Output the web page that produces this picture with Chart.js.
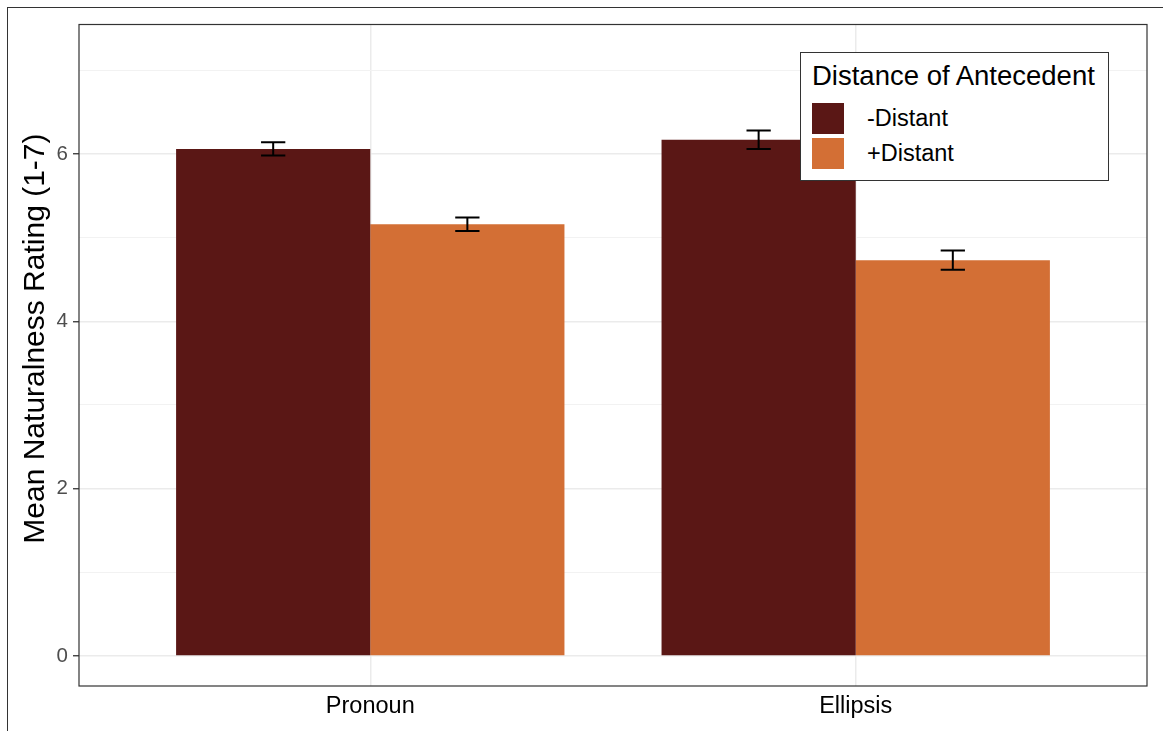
<!DOCTYPE html>
<html>
<head>
<meta charset="utf-8">
<script src="https://cdn.jsdelivr.net/npm/chart.js@4"></script>
<style>
    body { margin: 0; background: #fff; }
    #wrap { position: relative; width: 1163px; height: 731px; overflow: hidden; }
    #frame { position: absolute; left: 7px; top: 7px; width: 1200px; height: 800px;
        border-left: 1.3px solid #333; border-top: 1.3px solid #333; }
    #legend { position: absolute; left: 800px; top: 52px; width: 307px; height: 127px;
        background: #fff; border: 1.3px solid #333; font-family: "Liberation Sans", Arial, sans-serif; }
    #legend .title { position: absolute; left: 11px; top: 7px; font-size: 27.5px; color: #000; white-space: nowrap; }
    #legend .key { position: absolute; left: 11px; width: 32px; height: 31px; }
    #legend .lab { position: absolute; left: 66px; font-size: 23.5px; color: #000; line-height: 31px; white-space: nowrap; }
</style>
</head>
<body>
<div id="wrap">
    <canvas id="myChart" width="1163" height="731"></canvas>
    <div id="frame"></div>
    <div id="legend"></div>
</div>
<script>
const categories = ['Pronoun', 'Ellipsis'];
const seriesNames = ['-Distant', '+Distant'];
const seriesColors = ['#5A1715', '#D36F35'];
const nearMeans = [6.06, 6.17];
const nearErrors = [0.08, 0.11];
const farMeans = [5.16, 4.73];
const farErrors = [0.08, 0.115];
const yTicks = [0, 1, 2, 3, 4, 5, 6, 7];
const legendTitle = 'Distance of Antecedent';
const yTitle = 'Mean Naturalness Rating (1-7)';

const fontFam = '"Liberation Sans", Arial, sans-serif';

function toPoints(means) {
    return means.map((v, i) => ({ x: i + 1, y: v }));
}

const errorBars = {
    id: 'errorBars',
    afterDatasetsDraw(chart) {
        const ctx = chart.ctx;
        const yScale = chart.scales.y;
        ctx.save();
        ctx.strokeStyle = '#000';
        ctx.lineWidth = 2;
        chart.data.datasets.forEach((ds, di) => {
            const meta = chart.getDatasetMeta(di);
            meta.data.forEach((bar, i) => {
                const v = ds.data[i].y;
                const se = ds.errors[i];
                const top = yScale.getPixelForValue(v + se);
                const bot = yScale.getPixelForValue(v - se);
                const half = bar.width * 0.0625;
                ctx.beginPath();
                ctx.moveTo(bar.x - half, top); ctx.lineTo(bar.x + half, top);
                ctx.moveTo(bar.x, top); ctx.lineTo(bar.x, bot);
                ctx.moveTo(bar.x - half, bot); ctx.lineTo(bar.x + half, bot);
                ctx.stroke();
            });
        });
        ctx.restore();
    }
};

const panelBorder = {
    id: 'panelBorder',
    afterDraw(chart) {
        const a = chart.chartArea;
        const ctx = chart.ctx;
        ctx.save();
        ctx.strokeStyle = '#333333';
        ctx.lineWidth = 1.2;
        ctx.strokeRect(a.left, a.top, a.right - a.left, a.bottom - a.top);
        ctx.restore();
    }
};

function createBars(context) {
    const chartInstance = new Chart(context, {
        type: 'bar',
        data: {
            datasets: [{
                label: seriesNames[0],
                backgroundColor: seriesColors[0],
                data: toPoints(nearMeans),
                errors: nearErrors
            }, {
                label: seriesNames[1],
                backgroundColor: seriesColors[1],
                data: toPoints(farMeans),
                errors: farErrors
            }]
        },
        options: {
            responsive: false,
            animation: false,
            layout: { padding: { left: 0, right: 16, top: 24.5, bottom: 0 } },
            categoryPercentage: 0.8,
            barPercentage: 1.0,
            plugins: { legend: { display: false }, tooltip: { enabled: false } },
            scales: {
                x: {
                    type: 'linear',
                    min: 0.4,
                    max: 2.6,
                    offset: false,
                    afterBuildTicks: (scale) => { scale.ticks = categories.map((c, i) => ({ value: i + 1 })); },
                    afterFit: (scale) => { scale.height = 45; },
                    grid: { offset: false, color: '#EBEBEB', lineWidth: 1.5, drawTicks: false },
                    border: { display: false },
                    ticks: {
                        padding: 6,
                        color: '#000',
                        font: { family: fontFam, size: 23.5 },
                        callback: (v) => categories[v - 1]
                    }
                },
                y: {
                    min: -0.359,
                    max: 7.547,
                    afterBuildTicks: (scale) => { scale.ticks = yTicks.map(v => ({ value: v })); },
                    afterFit: (scale) => { scale.width = 79; },
                    grid: {
                        color: (c) => c.tick.value % 2 === 0 ? '#EBEBEB' : '#F2F2F2',
                        lineWidth: (c) => c.tick.value % 2 === 0 ? 1.5 : 1,
                        tickColor: (c) => c.tick.value % 2 === 0 ? '#333333' : 'rgba(0,0,0,0)',
                        tickLength: 6,
                        tickWidth: 1.3
                    },
                    border: { display: false },
                    ticks: {
                        padding: 5,
                        color: '#4D4D4D',
                        font: { family: fontFam, size: 20.5 },
                        callback: (v) => v % 2 === 0 ? String(v) : ''
                    },
                    title: {
                        display: true,
                        // leading spaces nudge the text up to sit like the original
                        text: '\u00A0\u00A0\u00A0\u00A0' + yTitle,
                        color: '#000',
                        font: { family: fontFam, size: 30 },
                        padding: { top: 18, bottom: 0 }
                    }
                }
            }
        },
        plugins: [errorBars, panelBorder]
    });
    return chartInstance;
}

function buildLegend() {
    const box = document.getElementById('legend');
    let html = '<div class="title">' + legendTitle + '</div>';
    seriesNames.forEach((name, i) => {
        const top = 50 + i * 35;
        html += '<div class="key" style="top:' + top + 'px;background:' + seriesColors[i] + '"></div>';
        html += '<div class="lab" style="top:' + top + 'px">' + name + '</div>';
    });
    box.innerHTML = html;
}

createBars('myChart');
buildLegend();
</script>
</body>
</html>
